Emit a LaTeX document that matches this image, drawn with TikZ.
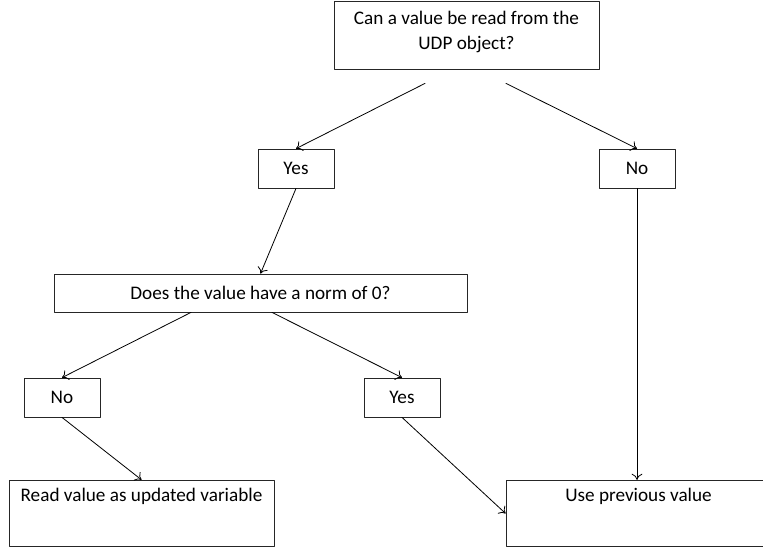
\documentclass[tikz,border=0pt]{standalone}
\usepackage{fontspec}
\setmainfont{Carlito}
\usetikzlibrary{positioning,calc,arrows.meta}

\begin{document}
\begin{tikzpicture}[x=0.75pt, y=-0.75pt, font=\fontsize{14.4}{17}\selectfont, line cap=round, line join=round]
				% ---- page frame (same size as the picture) ----
				\useasboundingbox (0,0) rectangle (763,550);
				\clip (0,0) rectangle (763,550);
				
				% ---- box centres (placed like the picture) ----
				\coordinate (Q)  at (466.5, 35);
				\coordinate (Y1) at (296, 168.5);
				\coordinate (N1) at (637, 168.5);
				\coordinate (Z)  at (260.5, 293);
				\coordinate (N2) at (62, 397.5);
				\coordinate (Y2) at (402, 397.5);
				\coordinate (R)  at (141.5, 513.5);
				\coordinate (U)  at (638.5, 513.5);
				
				% ---- box styles ----
				\tikzset{box/.style={rectangle, draw=black!85, line width=0.6pt, inner sep=0pt, align=center},
					answer/.style={box, minimum width=57pt, minimum height=29.25pt},
					result/.style={box, minimum width=198.75pt, text height=16pt, text depth=34pt},
					flow/.style={-{To[length=4.5pt, width=8pt]}, line width=0.6pt, draw=black}}
				
				% ---- the boxes ----
				\node[box, minimum width=198.75pt, minimum height=51pt,
				font=\fontsize{14.4}{18.75}\selectfont] (nQ) at (Q)
				{Can a value be read from the\\UDP object?\\[-11pt]};
				\node[answer] (nY1) at (Y1) {Yes};
				\node[answer] (nN1) at (N1) {No};
				\node[box, minimum width=309.75pt, minimum height=28.5pt] (nZ) at (Z)
				{Does the value have a norm of 0?};
				\node[answer] (nN2) at (N2) {No};
				\node[answer] (nY2) at (Y2) {Yes};
				\node[result] (nR) at (R) {Read value as updated variable};
				\node[result] (nU) at (U) {Use previous value};
				
				% ---- free starts under the question box ----
				\coordinate (q1) at ($(nQ.south)+(-41.5,14)$);
				\coordinate (q2) at ($(nQ.south)+(39.5,14)$);
				
				% ---- the arrows ----
				\draw[flow] (q1) -- (nY1.north);
				\draw[flow] (q2) -- (nN1.north);
				
				\draw[flow] (nY1.south) -- (nZ.north);
				\draw[flow] (nN1.south) -- (nN1.south |- nU.north);
				
				\draw[flow] ($(nZ.south)+(-69.5,0)$) -- (nN2.north);
				\draw[flow] ($(nZ.south)+(11.5,0)$)  -- (nY2.north);
				
				\draw[flow] (nN2.south) -- (nR.north);
				\draw[flow] (nY2.south) -- (nU.west);
			\end{tikzpicture}
\end{document}
